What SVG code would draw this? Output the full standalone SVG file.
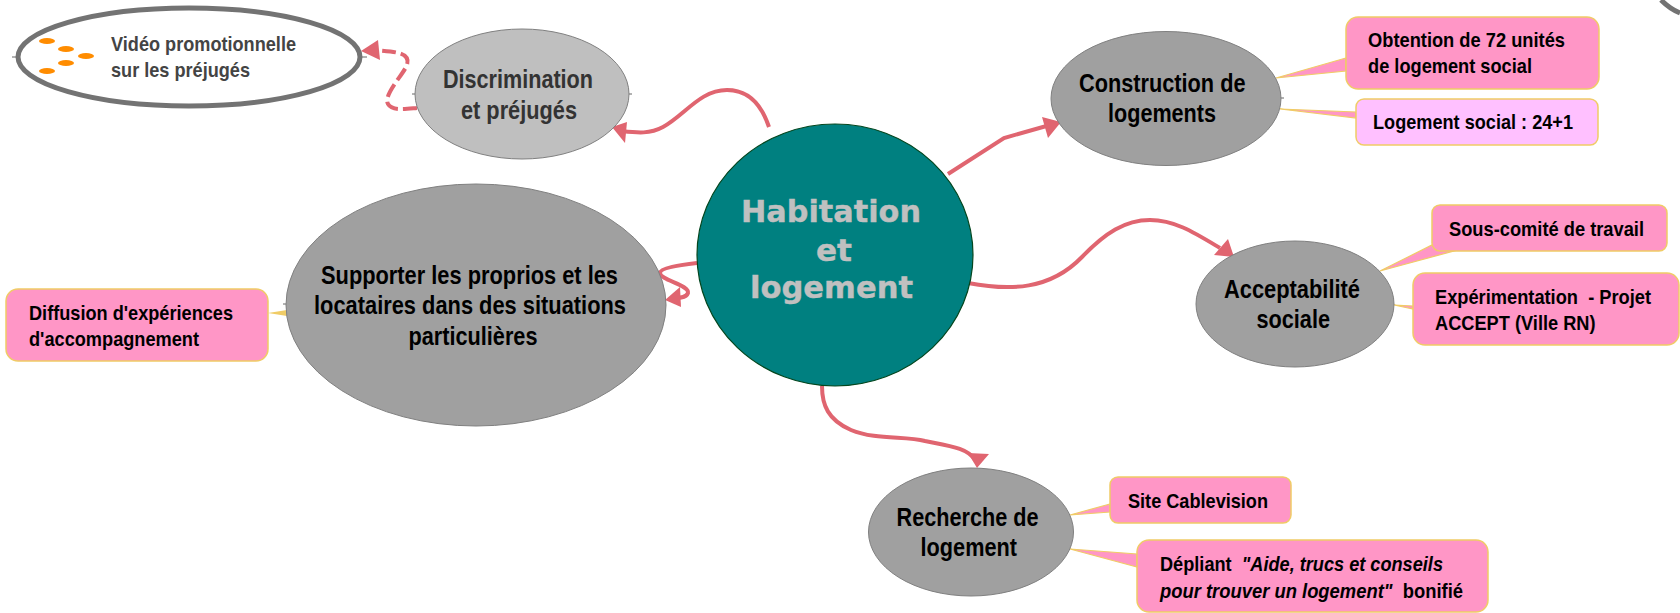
<svg xmlns="http://www.w3.org/2000/svg" width="1680" height="613" viewBox="0 0 1680 613">
<style>
text{font-family:"Liberation Sans",Arial,sans-serif;font-weight:bold;fill:#000;font-size:21px}
.big{font-size:26px}
.hub{font-family:"DejaVu Sans",sans-serif;font-size:31px;fill:#c0c0c0;stroke:#c0c0c0;stroke-width:.4}
.box{fill:#ff96c6;stroke:#f0cc66;stroke-width:1.5}
.light{fill:#ffc0ff}
.tail{fill:#ff96c6;stroke:#f0cc66;stroke-width:1.2;stroke-linejoin:miter}
.gray{fill:#a0a0a0;stroke:#808080;stroke-width:1}
.c{fill:none;stroke:#e06570;stroke-width:4}
.h{fill:#e06570;stroke:none}
.t{stroke:#666;stroke-width:1;fill:none}
.dot{fill:#ff8c00}
.i{font-style:italic}
</style>
<rect width="1680" height="613" fill="#fff"/>
<path d="M1661,0 Q1670,9 1680,13" fill="none" stroke="#737373" stroke-width="5"/>
<g id="connectors">
<path class="c" d="M769,127 C760,100 745,90 727,90 C700,90 685,115 663,127 C650,134 638,133 622,131"/>
<polygon class="h" points="612,127 627,122 625,143"/>
<path class="c" stroke-dasharray="14 5" d="M417,108 C405,109 392,111 388,104 C383,95 403,75 407,65 C411,52 395,52 375,50"/>
<polygon class="h" points="361,51 378,40 380,60"/>
<path class="c" d="M948,174 L1004,138 L1050,125"/>
<polygon class="h" points="1061,122 1042,117 1048,138"/>
<path class="c" d="M968,283 C1010,291 1050,290 1082,257 C1105,233 1125,220 1150,220 C1175,220 1195,233 1220,248"/>
<polygon class="h" points="1234,257 1228,239 1214,255"/>
<path class="c" d="M822,386 C822,405 828,420 851,430 C875,440 905,436 925,441 C950,446 968,448 975,460"/>
<polygon class="h" points="977,468 968,453 989,454"/>
<path class="c" d="M697,263 C680,265 660,268 660,273 C660,280 690,285 688,293 C686,299 675,298 670,298"/>
<polygon class="h" points="665,300 680,287 681,307"/>
</g>
<g id="central"><ellipse cx="835" cy="255" rx="138" ry="131" fill="#008080" stroke="#04461e" stroke-width="1.2"/>
<text class="hub" x="741" y="222" textLength="180" lengthAdjust="spacingAndGlyphs">Habitation</text>
<text class="hub" x="816" y="261" textLength="36" lengthAdjust="spacingAndGlyphs">et</text>
<text class="hub" x="750" y="298" textLength="163" lengthAdjust="spacingAndGlyphs">logement</text></g>
<g id="video"><path class="t" d="M12,57H17M362,57H367"/><ellipse cx="189" cy="57" rx="171" ry="49" fill="#fff" stroke="#737373" stroke-width="5"/>
<ellipse class="dot" cx="47" cy="41" rx="8" ry="3"/><ellipse class="dot" cx="66" cy="49" rx="8" ry="3"/><ellipse class="dot" cx="86" cy="56" rx="8" ry="3"/><ellipse class="dot" cx="66" cy="63" rx="8" ry="3"/><ellipse class="dot" cx="47" cy="71" rx="8" ry="3"/>
<text x="111" y="51" textLength="185" lengthAdjust="spacingAndGlyphs" style="fill:#444">Vidéo promotionnelle</text>
<text x="111" y="77" textLength="139" lengthAdjust="spacingAndGlyphs" style="fill:#444">sur les préjugés</text></g>
<g id="discrimination"><path class="t" d="M412,94H415M629,94H632"/><ellipse cx="522" cy="94" rx="107" ry="65" fill="#bfbfbf" stroke="#808080"/>
<text class="big" x="443" y="88" textLength="150" lengthAdjust="spacingAndGlyphs" style="fill:#333">Discrimination</text>
<text class="big" x="461" y="119" textLength="116" lengthAdjust="spacingAndGlyphs" style="fill:#333">et préjugés</text></g>
<g id="construction"><path class="t" d="M1280,98H1284"/>
<polygon class="tail" points="1276,78 1346,58 1346,71"/><polygon class="tail" points="1280,109 1356,112 1356,118"/>
<ellipse class="gray" cx="1166" cy="98.500" rx="115" ry="67"/>
<text class="big" x="1079" y="92" textLength="166.500" lengthAdjust="spacingAndGlyphs">Construction de</text>
<text class="big" x="1108" y="122" textLength="108" lengthAdjust="spacingAndGlyphs">logements</text></g>
<g id="obtention"><rect class="box" x="1346" y="17" width="253" height="72" rx="12"/>
<text x="1368" y="47" textLength="197" lengthAdjust="spacingAndGlyphs">Obtention de 72 unités</text>
<text x="1368" y="73" textLength="164" lengthAdjust="spacingAndGlyphs">de logement social</text></g>
<g id="logement-social"><rect class="box light" x="1356" y="99" width="242" height="46" rx="8"/>
<text x="1373" y="129" textLength="200" lengthAdjust="spacingAndGlyphs">Logement social : 24+1</text></g>
<g id="acceptabilite"><polygon class="tail" points="1380,271 1432,245 1454,251"/><polygon class="tail" points="1394,305 1413,306 1413,309"/>
<ellipse class="gray" cx="1295" cy="304" rx="99" ry="63"/>
<text class="big" x="1224" y="298" textLength="136" lengthAdjust="spacingAndGlyphs">Acceptabilité</text>
<text class="big" x="1256.500" y="328" textLength="73.500" lengthAdjust="spacingAndGlyphs">sociale</text></g>
<g id="sous-comite"><rect class="box" x="1432" y="205" width="235" height="46" rx="8"/>
<text x="1449" y="236" textLength="195" lengthAdjust="spacingAndGlyphs">Sous-comité de travail</text></g>
<g id="experimentation"><rect class="box" x="1413" y="273" width="266" height="72" rx="12"/>
<text x="1435" y="304" textLength="216" lengthAdjust="spacingAndGlyphs" xml:space="preserve">Expérimentation  - Projet</text>
<text x="1435" y="330" textLength="160.600" lengthAdjust="spacingAndGlyphs">ACCEPT (Ville RN)</text></g>
<g id="recherche"><polygon class="tail" points="1070,515 1110,504 1110,512"/><polygon class="tail" points="1070,549 1137,554 1137,567"/>
<ellipse class="gray" cx="971" cy="532" rx="102.500" ry="64"/>
<text class="big" x="896.600" y="526" textLength="142" lengthAdjust="spacingAndGlyphs">Recherche de</text>
<text class="big" x="920.600" y="556" textLength="96.400" lengthAdjust="spacingAndGlyphs">logement</text></g>
<g id="cablevision"><rect class="box" x="1110" y="477" width="181" height="46" rx="8"/>
<text x="1128" y="508" textLength="140" lengthAdjust="spacingAndGlyphs">Site Cablevision</text></g>
<g id="depliant"><rect class="box" x="1137" y="540" width="351" height="72" rx="12"/>
<text x="1160" y="571" textLength="283" lengthAdjust="spacingAndGlyphs" xml:space="preserve">Dépliant  <tspan class="i">"Aide, trucs et conseils</tspan></text>
<text x="1160" y="598" textLength="303" lengthAdjust="spacingAndGlyphs" xml:space="preserve"><tspan class="i">pour trouver un logement"</tspan>  bonifié</text></g>
<g id="supporter"><path class="t" d="M283,304H286"/><path d="M268,313L287,310V316Z" fill="#f0cc66"/>
<ellipse class="gray" cx="476" cy="305" rx="190" ry="121"/>
<text class="big" x="321" y="284" textLength="297" lengthAdjust="spacingAndGlyphs">Supporter les proprios et les</text>
<text class="big" x="314" y="314" textLength="312" lengthAdjust="spacingAndGlyphs">locataires dans des situations</text>
<text class="big" x="408.500" y="345" textLength="129" lengthAdjust="spacingAndGlyphs">particulières</text></g>
<g id="diffusion"><rect class="box" x="6" y="289" width="262" height="72" rx="12"/>
<text x="29" y="320" textLength="204" lengthAdjust="spacingAndGlyphs">Diffusion d'expériences</text>
<text x="29" y="346" textLength="170" lengthAdjust="spacingAndGlyphs">d'accompagnement</text></g>
</svg>
